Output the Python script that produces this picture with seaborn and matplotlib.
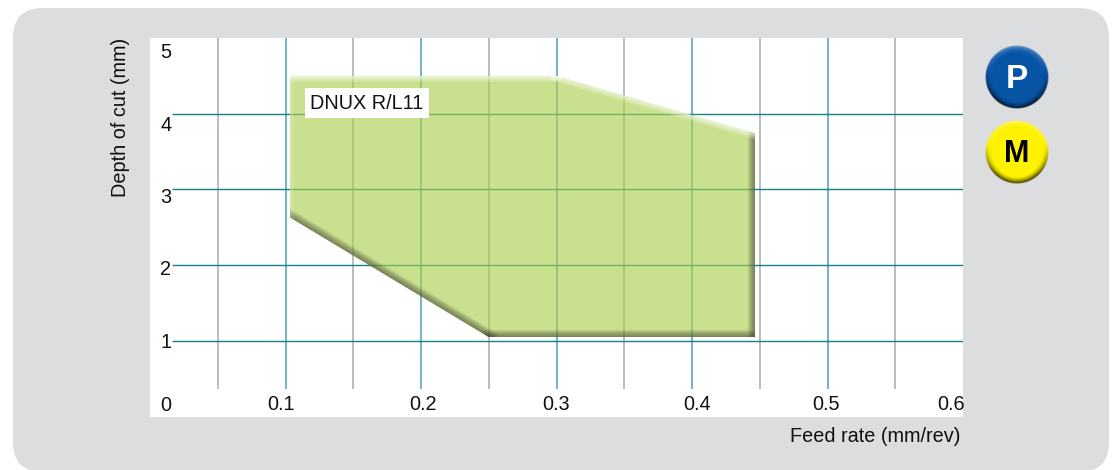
"""
Cutting conditions chart: depth of cut against feed rate for DNUX R/L11.
"""

import matplotlib

matplotlib.use("Agg")

import matplotlib.pyplot as plt
import matplotlib.transforms as mtransforms
import numpy as np
import pandas as pd
import seaborn as sns
from matplotlib.patches import FancyBboxPatch

# chart values
feed_region = [0.1033, 0.30, 0.4465, 0.4465, 0.25, 0.1033]
depth_region = [4.50, 4.50, 3.74, 1.05, 1.05, 2.63]
feed_major = [0.1, 0.2, 0.3, 0.4, 0.5]
feed_minor = [0.05, 0.15, 0.25, 0.35, 0.45, 0.55]
depth_lines = [1, 2, 3, 4]
feed_ticks = [0, 0.1, 0.2, 0.3, 0.4, 0.5, 0.6]
feed_tick_labels = ["", "0.1", "0.2", "0.3", "0.4", "0.5", "0.6"]
depth_ticks = [0, 1, 2, 3, 4, 5]
depth_tick_labels = ["0", "1", "2", "3", "4", "5"]
region_label = "DNUX R/L11"
x_title = "Feed rate (mm/rev)"
y_title = "Depth of cut (mm)"

# tick labels in the original sit a little off their grid positions (pixels)
x_label_shift = [0, -4, 2, 0, 5.5, -1.5, -12]
y_label_shift = [13, 0, -2, -6, -10, -12]

PANEL_GREY = "#dcddde"
TEAL = "#17808f"
TEAL_LIGHT = "#7db4c1"
GREY_LINE = "#a9a9a9"
TEXT_COLOR = "#111111"

sns.set_theme(style="white")
plt.rcParams["font.family"] = ["Liberation Sans", "DejaVu Sans"]

fig = plt.figure(figsize=(11.12, 4.7), dpi=100, facecolor="white")
W, H = 1112, 470

# overlay in pixel coordinates for the rounded panel and the badges
back = fig.add_axes([0, 0, 1, 1], zorder=0)
back.set_xlim(0, W)
back.set_ylim(H, 0)
back.axis("off")
back.add_patch(
    FancyBboxPatch(
        (43, 38), 1036, 404, boxstyle="round,pad=30,rounding_size=30",
        facecolor=PANEL_GREY, edgecolor="none",
    )
)

ax = fig.add_axes([150 / W, 1 - 416.5 / H, 813 / W, 378.5 / H], zorder=1)
ax.set_facecolor("white")
ax.set_xlim(0, 0.6)
ax.set_ylim(0, 5)
for spine in ax.spines.values():
    spine.set_visible(False)

# grid lines stop short of the tick labels
ax.vlines(feed_minor, 0.36, 5, color=GREY_LINE, lw=1.1, zorder=1)
ax.vlines(feed_major, 0.36, 5, color=TEAL_LIGHT, lw=1.5, zorder=1)
ax.hlines(depth_lines, 0.016, 0.6, color=TEAL, lw=1.0, zorder=1)

# translucent region so the grid shows through
ax.fill(feed_region, depth_region, facecolor="#a9d049", alpha=0.62, edgecolor="none", zorder=2)
clip_poly = ax.fill(feed_region, depth_region, facecolor="none", edgecolor="none", zorder=2)[0]


def shade_edge(idx_a, idx_b, color, widths, alpha):
    """Soft inner shading along one edge of the region, clipped to it."""
    edge = pd.DataFrame(
        {
            "feed": [feed_region[idx_a], feed_region[idx_b]],
            "depth": [depth_region[idx_a], depth_region[idx_b]],
        }
    )
    for width in widths:
        sns.lineplot(
            data=edge, x="feed", y="depth", sort=False, estimator=None,
            color=color, lw=width, alpha=alpha, ax=ax, zorder=3,
            solid_capstyle="projecting",
        )
        ax.lines[-1].set_clip_path(clip_poly)


dark_steps = [11, 10, 9, 8, 7, 6, 5, 4, 3, 2, 1]
shade_edge(3, 4, "#3d3d30", dark_steps, 0.07)
shade_edge(4, 5, "#3d3d30", dark_steps, 0.07)
shade_edge(2, 3, "#3d3d30", dark_steps, 0.07)
shade_edge(0, 1, "white", [8, 6, 4, 2], 0.2)
shade_edge(1, 2, "white", [8, 6, 4, 2], 0.2)
shade_edge(5, 0, "white", [6, 3], 0.1)
ax.set_xlabel("")
ax.set_ylabel("")

ax.text(
    0.118, 4.14, region_label, fontsize=14.3, color=TEXT_COLOR, va="center", ha="left",
    bbox=dict(facecolor="white", edgecolor="none", pad=3.8), zorder=5,
)

# tick labels drawn inside the plot area, no tick marks
ax.set_xticks(feed_ticks, feed_tick_labels)
ax.set_yticks(depth_ticks, depth_tick_labels)
ax.tick_params(axis="x", length=0, pad=-15.5, labelsize=14.3, labelcolor=TEXT_COLOR)
ax.tick_params(axis="y", length=0, pad=-11.5, labelsize=14.3, labelcolor=TEXT_COLOR)
for label, shift in zip(ax.get_xticklabels(), x_label_shift):
    label.set_ha("center")
    label.set_va("top")
    label.set_zorder(6)
    label.set_transform(
        label.get_transform() + mtransforms.ScaledTranslation(shift / 100, 0, fig.dpi_scale_trans)
    )
for label, shift in zip(ax.get_yticklabels(), y_label_shift):
    label.set_ha("center")
    label.set_zorder(6)
    label.set_transform(
        label.get_transform() + mtransforms.ScaledTranslation(0, shift / 100, fig.dpi_scale_trans)
    )

# axis titles sit on the grey panel
fig.text(961 / W, 1 - 437 / H, x_title, fontsize=14.3, color=TEXT_COLOR, ha="right", va="center")
fig.text(121 / W, 1 - 38 / H, y_title, fontsize=14.3, color=TEXT_COLOR, rotation=90, ha="center", va="top")

front = fig.add_axes([0, 0, 1, 1], zorder=2)
front.patch.set_alpha(0)
front.axis("off")


def draw_badge(cx, cy, radius, letter, base, text_color, size):
    """Round badge: flat middle, light upper rim, dark lower rim."""
    n = 4 * int(radius) * 2
    grid = np.linspace(-1.05, 1.05, n)
    gx, gy = np.meshgrid(grid, grid)
    r = np.hypot(gx, gy)
    rim = np.clip((r - 0.78) / 0.22, 0, 1) ** 1.5
    shade = gy / np.maximum(r, 1e-6)
    dark = rim * np.clip(shade + 0.25, 0, 1) / 1.25
    light = rim * np.clip(-shade - 0.2, 0, 1) * 0.45
    rgba = np.zeros((n, n, 4))
    for ch in range(3):
        rgba[..., ch] = base[ch] * (1 - dark) + light * (1 - base[ch])
    rgba[..., 3] = np.clip((1 - r) * radius + 0.5, 0, 1)
    front.imshow(
        rgba, extent=(cx - 1.05 * radius, cx + 1.05 * radius, cy + 1.05 * radius, cy - 1.05 * radius),
        interpolation="bilinear", zorder=1,
    )
    front.text(cx, cy + 2.5, letter, fontsize=size, fontweight="bold", color=text_color,
               ha="center", va="center", zorder=2)


draw_badge(1017, 77, 31, "P", (0.03, 0.33, 0.65), "white", 24)
draw_badge(1017, 152, 31, "M", (1.00, 0.95, 0.0), "black", 22)
front.set_xlim(0, W)
front.set_ylim(H, 0)
front.set_aspect("auto")

fig.savefig("out.png", dpi=100)
plt.close(fig)
